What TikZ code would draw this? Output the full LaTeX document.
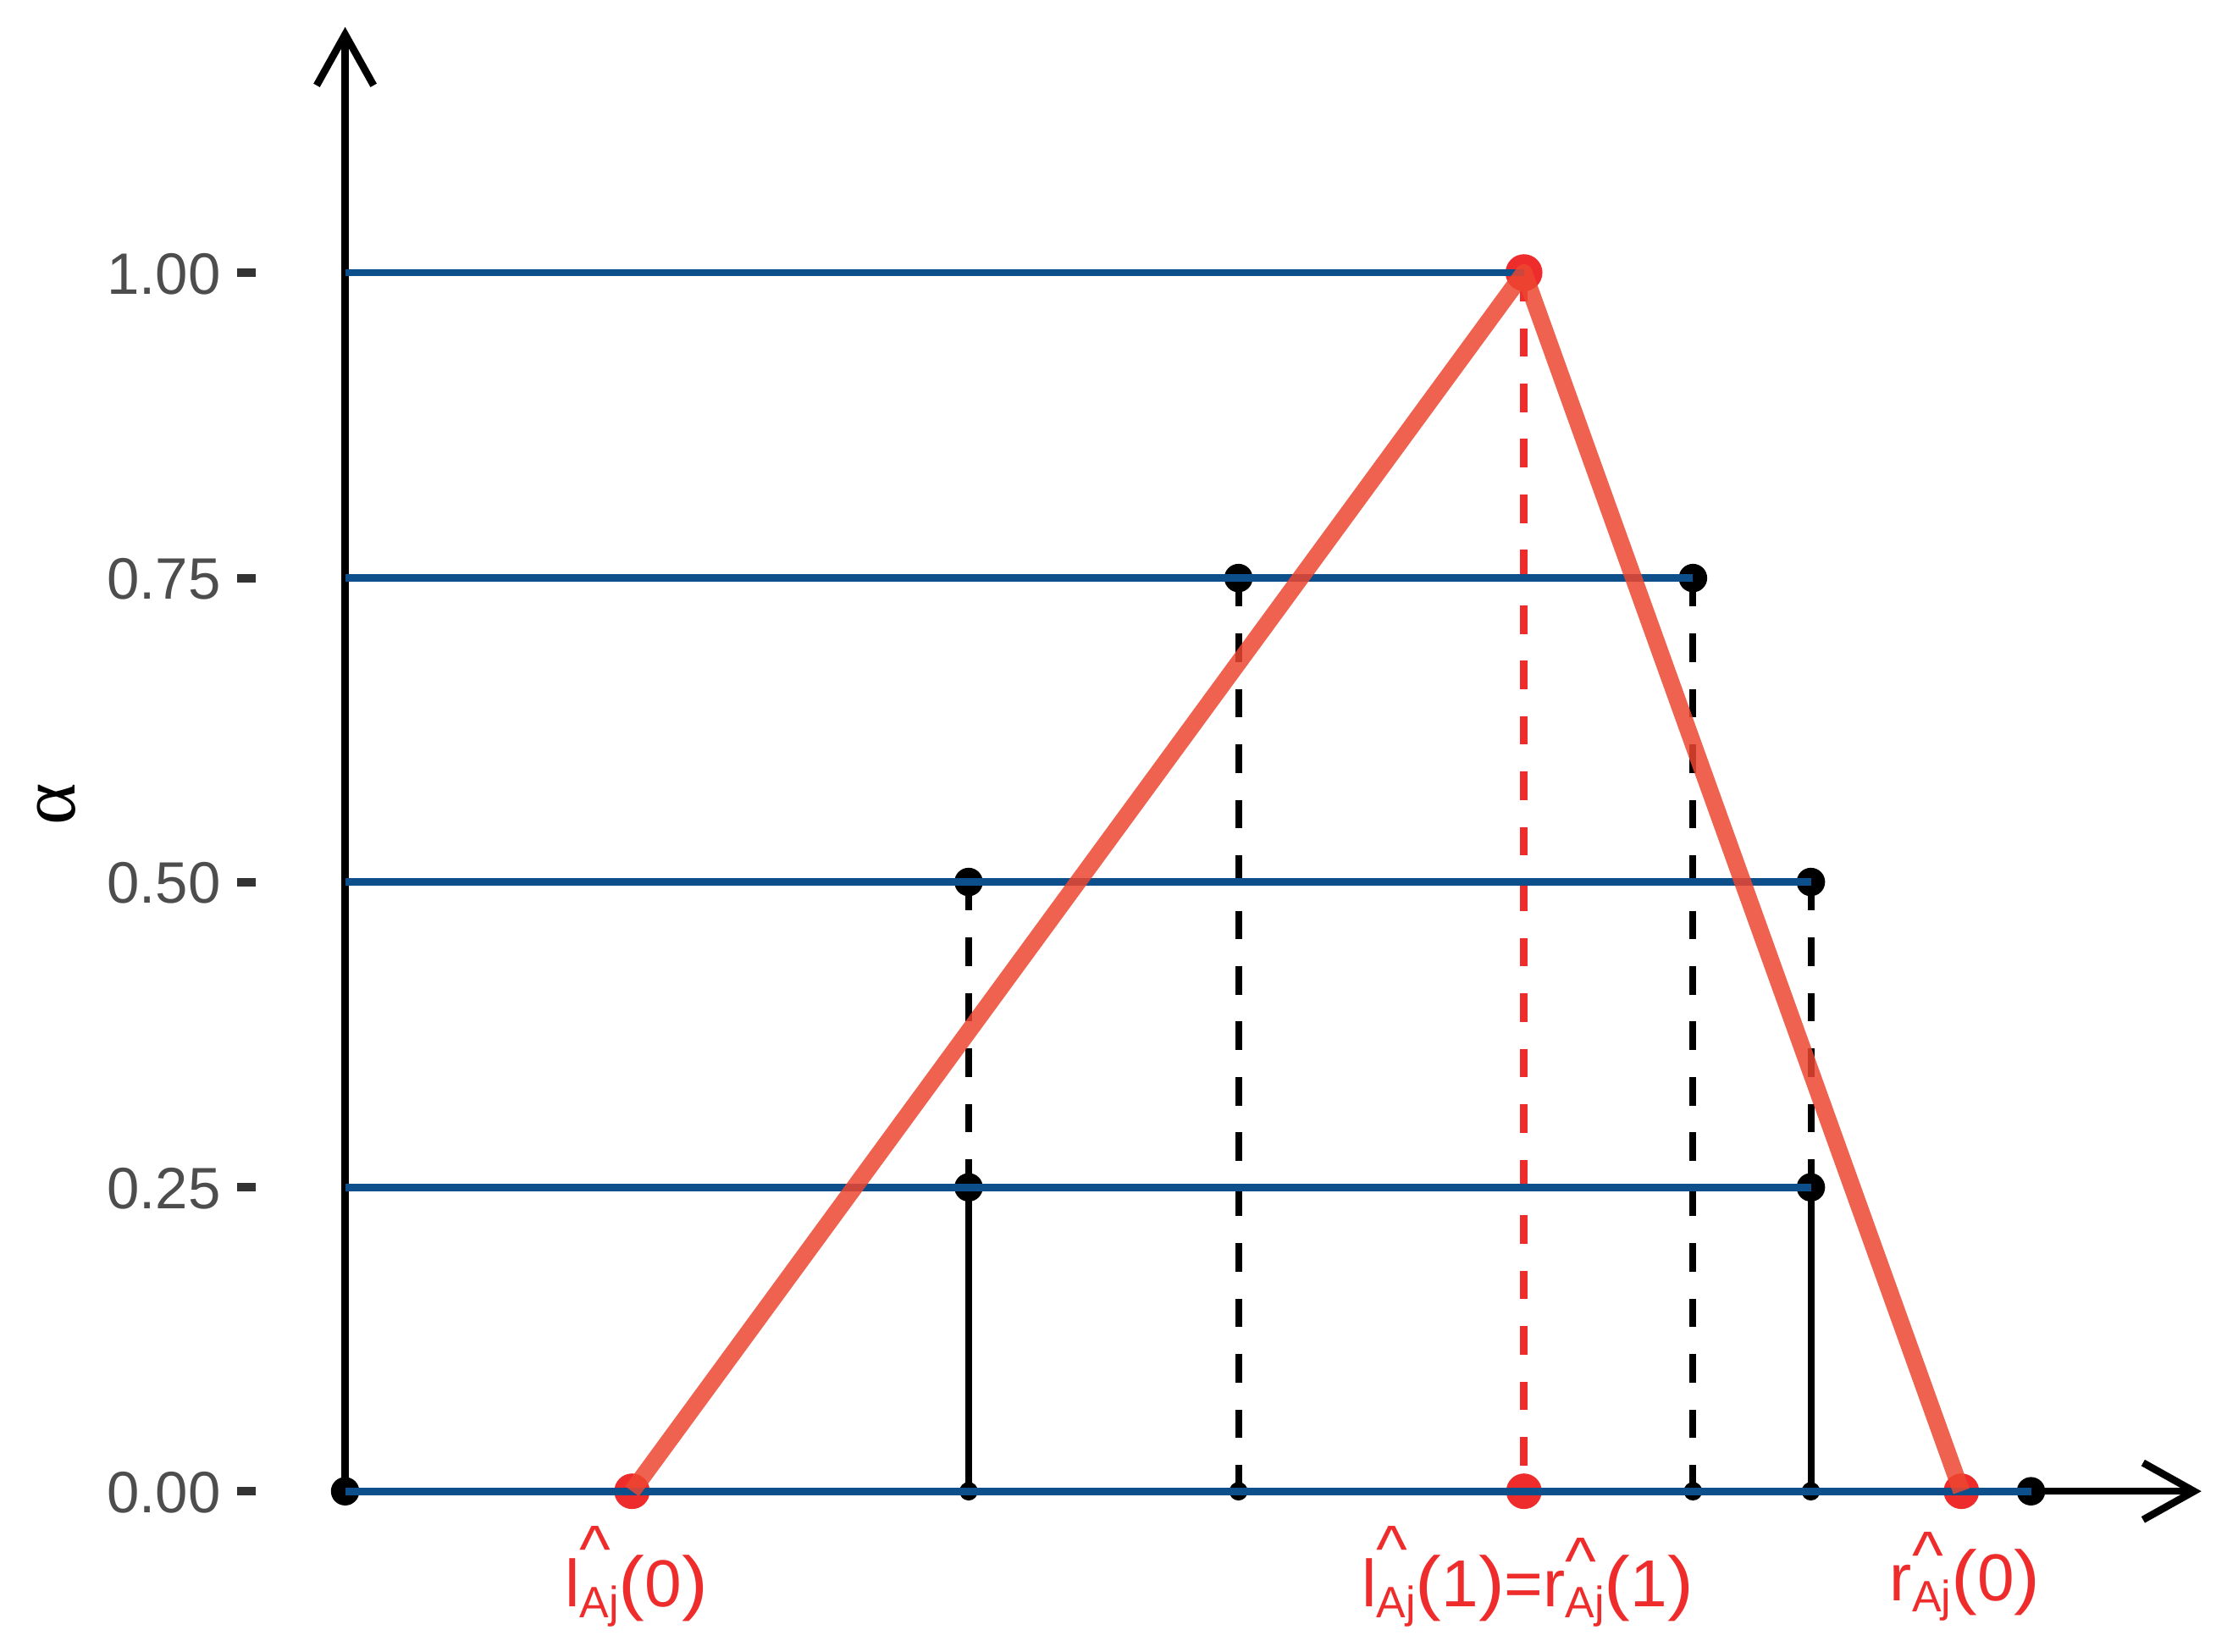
\documentclass[tikz,border=0pt]{standalone}
\usepackage{fontspec}
\setmainfont{Liberation Sans}
\newfontfamily\greekserif{Liberation Serif}
\usetikzlibrary{arrows.meta}
\definecolor{lvlblue}{RGB}{13,79,139}
\definecolor{fuzzorange}{RGB}{237,70,49}
\definecolor{ptred}{RGB}{238,44,44}
\definecolor{ticklab}{RGB}{77,77,77}
\definecolor{tickmark}{RGB}{51,51,51}
\newcommand{\subAj}{{\fontsize{8.8}{9}\selectfont\raisebox{-2.3pt}{Aj}}}
\newcommand{\caretup}[1]{\rlap{\raisebox{#1}{\textasciicircum}}}
\newcommand{\labl}{l\caretup{6.9pt}\subAj}
\newcommand{\labr}{r\caretup{4.5pt}\subAj}
\newcommand{\lpar}{\scalebox{1.18}[1.07]{(}}
\newcommand{\rpar}{\scalebox{1.18}[1.07]{)}}
\begin{document}
\begin{tikzpicture}[x=0.01cm,y=-0.01cm,
  axisline/.style={line width=1.45pt, black, -{Straight Barb[length=10.2pt,width=11.4pt]}},
  levelline/.style={line width=1.48pt, lvlblue},
  projline/.style={line width=1.35pt, black, dash pattern=on 5.7pt off 5.4pt},
  projsolid/.style={line width=1.35pt, black},
  projred/.style={line width=1.5pt, ptred, dash pattern=on 5.7pt off 5.4pt},
  fuzzy/.style={line width=3.4pt, fuzzorange, opacity=0.85, line join=round},
  bigdot/.style={circle, fill=black, inner sep=0pt, minimum size=0.2cm},
  smalldot/.style={circle, fill=black, inner sep=0pt, minimum size=0.13cm},
  reddot/.style={circle, fill=ptred, inner sep=0pt, minimum size=0.25cm},
  peakdot/.style={circle, fill=ptred, inner sep=0pt, minimum size=0.26cm},
  ticklabel/.style={anchor=base east, inner sep=0pt, text=ticklab, font=\fontsize{11.7}{13}\selectfont},
  tickmk/.style={line width=1.7pt, tickmark},
  redlab/.style={anchor=base west, inner sep=0pt, text=ptred, font=\fontsize{13.3}{15}\selectfont}
]
\useasboundingbox (0,0) rectangle (1568,1163);

% coordinates
\coordinate (ytip) at (243,19);
\coordinate (xtip) at (1550,1050);
\coordinate (y100) at (243,192);
\coordinate (y075) at (243,407);
\coordinate (y050) at (243,621);
\coordinate (y025) at (243,836);

\coordinate (pa50) at (682,621);
\coordinate (pb50) at (1275,621);
\coordinate (pa25) at (682,836);
\coordinate (pb25) at (1275,836);
\coordinate (pa75) at (872,407);
\coordinate (pb75) at (1192,407);
\coordinate (pa0) at (682,1050);
\coordinate (pc0) at (872,1050);
\coordinate (pd0) at (1192,1050);
\coordinate (pb0) at (1275,1050);
\coordinate (ppeak) at (1073,192);
\coordinate (pm0) at (1073,1050);

% projections
\draw[projline] (pa50) -- (pa25);
\draw[projline] (pb50) -- (pb25);
\draw[projsolid] (pa25) -- (pa0);
\draw[projsolid] (pb25) -- (pb0);
\draw[projline] (pa75) -- (pc0);
\draw[projline] (pb75) -- (pd0);
\draw[projred] (ppeak) -- (pm0);

% axes
\node[bigdot] (o) at (243,1050) {};
\draw[axisline] (o.center) -- (ytip);
\draw[axisline] (o.center) -- (xtip);

% dots
\node[bigdot] (xend) at (1430,1050) {};
\node[bigdot] (a50) at (pa50) {};
\node[bigdot] (b50) at (pb50) {};
\node[bigdot] (a25) at (pa25) {};
\node[bigdot] (b25) at (pb25) {};
\node[bigdot] (a75) at (pa75) {};
\node[bigdot] (b75) at (pb75) {};
\node[smalldot] (a0) at (pa0) {};
\node[smalldot] (c0) at (pc0) {};
\node[smalldot] (d0) at (pd0) {};
\node[smalldot] (b0) at (pb0) {};
\node[reddot] (l0) at (445,1050) {};
\node[peakdot] (peak) at (ppeak) {};
\node[reddot] (m0) at (pm0) {};
\node[reddot] (r0) at (1381,1050) {};

% level lines
\draw[levelline] (y100) -- (peak.center);
\draw[levelline] (y075) -- (b75.center);
\draw[levelline] (y050) -- (b50.center);
\draw[levelline] (y025) -- (b25.center);
\draw[levelline] (o.center) -- (xend.center);

% fuzzy number
\draw[fuzzy] (l0.center) -- (peak.center) -- (r0.center);

% ticks
\draw[tickmk] (167,192) -- (180,192);
\draw[tickmk] (167,407) -- (180,407);
\draw[tickmk] (167,621) -- (180,621);
\draw[tickmk] (167,836) -- (180,836);
\draw[tickmk] (167,1050) -- (180,1050);
\node[ticklabel] (t100) at (156,207) {1.00};
\node[ticklabel] (t075) at (156,422) {0.75};
\node[ticklabel] (t050) at (156,636) {0.50};
\node[ticklabel] (t025) at (156,851) {0.25};
\node[ticklabel] (t000) at (156,1065) {0.00};

% axis title
\node[rotate=90, inner sep=0pt, font=\greekserif\fontsize{16}{18}\selectfont] (alab) at (40,566) {α};

% point labels
\node[redlab] (lab1) at (397,1131) {\labl\lpar0\rpar};
\node[redlab] (lab2) at (958,1131) {\labl\lpar1\rpar=\labr\lpar1\rpar};
\node[redlab] (lab3) at (1330,1127) {\labr\lpar0\rpar};
\end{tikzpicture}
\end{document}
